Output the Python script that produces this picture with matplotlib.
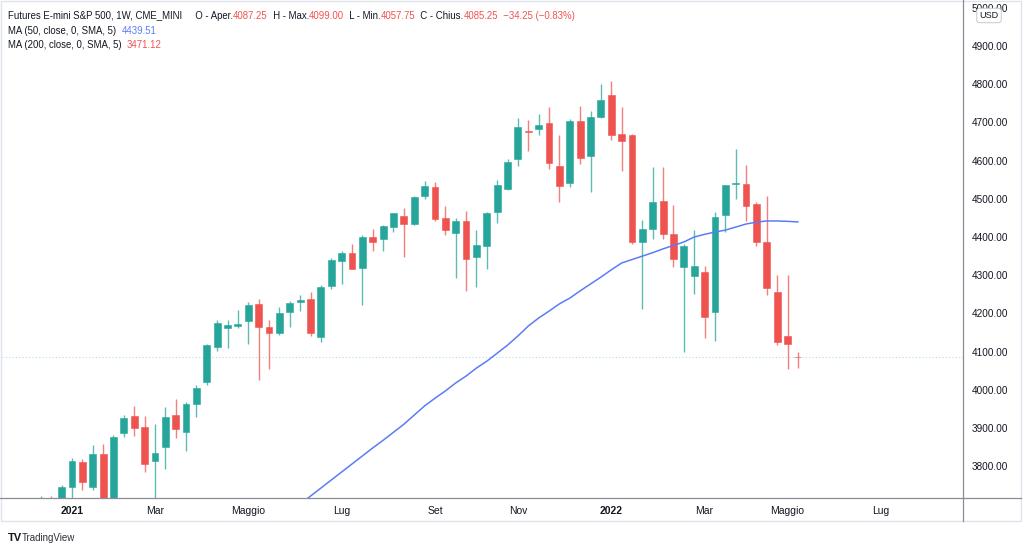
import matplotlib
matplotlib.use("Agg")
import matplotlib.pyplot as plt
from matplotlib.patches import Rectangle
from matplotlib.lines import Line2D
import numpy as np
import pandas as pd

plt.rcParams['font.family'] = ['Liberation Sans', 'DejaVu Sans']

# weekly candles, first week = 2020-12-14 (CME E-mini S&P 500, 1W)
first_week = "2020-12-14"
opens = [3695, 3717.5, 3700, 3745, 3812, 3745, 3833, 3700, 3886, 3932,
         3902, 3814, 3851, 3935, 3889, 3963, 4020, 4113, 4162, 4167,
         4181, 4225, 4165, 4148, 4204, 4230, 4237, 4139, 4272, 4338,
         4359, 4318, 4399, 4394, 4427, 4455, 4434, 4507, 4532, 4450,
         4410, 4443, 4347, 4377, 4465, 4526, 4605, 4677, 4683, 4699,
         4587, 4541, 4703, 4611, 4714, 4771, 4670, 4666, 4386, 4420,
         4495, 4408, 4322, 4298, 4308, 4203, 4457, 4538, 4538, 4487,
         4388, 4257, 4141, 4087.25]
highs = [3722, 3721, 3750, 3821, 3818, 3856, 3858, 3883, 3933, 3957,
         3931, 3910, 3954, 3975, 3968, 4012, 4120, 4183, 4184, 4209,
         4231, 4237, 4183, 4216, 4232, 4247, 4256, 4274, 4345, 4364,
         4382, 4406, 4421, 4431, 4464, 4475, 4507, 4547, 4545, 4481,
         4451, 4469, 4418, 4466, 4549, 4603, 4711, 4706, 4722, 4740,
         4668, 4710, 4743, 4731, 4800, 4807, 4740, 4670, 4444, 4584,
         4584, 4484, 4383, 4418, 4324, 4466, 4537, 4630, 4588, 4492,
         4507, 4300, 4300, 4099.00]
lows = [3680, 3690, 3690, 3660, 3739, 3739, 3694, 3692, 3877, 3879,
        3784, 3718, 3794, 3873, 3840, 3928, 4012, 4101, 4109, 4163,
        4120, 4027, 4055, 4143, 4164, 4206, 4141, 4126, 4264, 4277,
        4315, 4222, 4364, 4364, 4413, 4347, 4432, 4500, 4443, 4405,
        4293, 4259, 4268, 4315, 4437, 4523, 4586, 4625, 4666, 4577,
        4492, 4532, 4590, 4519, 4712, 4654, 4573, 4382, 4212, 4395,
        4394, 4321, 4100, 4250, 4137, 4128, 4414, 4500, 4443, 4376,
        4248, 4117, 4054, 4057.75]
closes = [3712, 3700, 3745, 3814, 3759, 3831, 3700, 3877, 3927, 3900,
          3806, 3836, 3929, 3897, 3963, 4006, 4118, 4174, 4169, 4173,
          4223, 4165, 4148, 4200, 4226, 4234, 4150, 4270, 4340, 4357,
          4316, 4401, 4386, 4429, 4462, 4434, 4505, 4533, 4447, 4418,
          4443, 4342, 4379, 4462, 4536, 4596, 4689, 4676, 4692, 4594,
          4534, 4703, 4607, 4715, 4758, 4666, 4652, 4387, 4421, 4491,
          4407, 4342, 4377, 4324, 4190, 4452, 4535, 4541, 4482, 4386,
          4266, 4124, 4119.5, 4085.25]
# MA (50, close) as drawn; None where it is off the chart
ma50 = [None] * 23 + [
    3655, 3678, 3700, 3722, 3743, 3764, 3785, 3806, 3827, 3848,
    3868, 3889, 3910, 3934, 3958, 3978, 3997, 4018, 4036, 4057,
    4075, 4096, 4117, 4141, 4167, 4188, 4206, 4225, 4240, 4259,
    4277, 4295, 4314, 4332, 4341, 4350, 4359, 4369, 4378, 4387,
    4400, 4407, 4413, 4418, 4426, 4434, 4439, 4442, 4442, 4441,
    4439.51]
ma200_last = 3471.12
price_ticks = [3800, 3900, 4000, 4100, 4200, 4300, 4400, 4500, 4600, 4700, 4800, 4900, 5000]
month_names = {1: None, 3: "Mar", 5: "Maggio", 7: "Lug", 9: "Set", 11: "Nov"}

UP = "#26a69a"
DOWN = "#ef5350"
TXT = "#131722"
MA_COL = "#5b7cf6"

W, H = 1024, 550
fig = plt.figure(figsize=(W / 100, H / 100), dpi=100)


def px(x0, y0, x1, y1):
    # pixel box (top-left origin) -> figure fraction rect
    return [x0 / W, 1 - y1 / H, (x1 - x0) / W, (y1 - y0) / H]


ax = fig.add_axes(px(2, 2, 963, 498))

o = np.array(opens, float)
h = np.array(highs, float)
l = np.array(lows, float)
c = np.array(closes, float)
idx = np.arange(len(o))
colors = np.where(c >= o, UP, DOWN)

ax.vlines(idx, l, h, colors=colors, lw=1.0, alpha=0.75, zorder=2)
body = np.maximum(np.abs(c - o), 1.2)
ax.bar(idx, body, bottom=np.minimum(o, c), width=0.66, color=colors,
       edgecolor=colors, linewidth=0.4, zorder=3)

ma = np.array([np.nan if v is None else v for v in ma50], float)
ax.plot(idx, ma, color=MA_COL, lw=1.1, zorder=4)

ax.axhline(c[-1], color=UP, alpha=0.35, lw=0.8, ls=(0, (1, 2)), zorder=1)

# axes ranges: a week is ~10.37 px, first Jan-2021 week at x=72
x_of_first = 72 - 10.37 * 3
ax.set_xlim((2 - x_of_first) / 10.37, (963 - x_of_first) / 10.37)
ax.set_ylim(3717, 5015)

# month ticks (first weekly bar of each month)
all_weeks = pd.date_range(first_week, periods=90, freq="W-MON")
tick_pos, tick_lab, tick_bold = [], [], []
seen = set()
for i, d in enumerate(all_weeks):
    key = (d.year, d.month)
    if d.month in month_names and key not in seen:
        seen.add(key)
        if d.month == 1:
            tick_lab.append(str(d.year))
            tick_bold.append(True)
        else:
            tick_lab.append(month_names[d.month])
            tick_bold.append(False)
        tick_pos.append(i)
ax.set_xticks(tick_pos)
ax.set_xticklabels(tick_lab)
for t, b in zip(ax.get_xticklabels(), tick_bold):
    t.set_fontweight("bold" if b else "normal")
ax.tick_params(axis="x", length=0, pad=5.5, labelsize=7.5, labelcolor=TXT)

ax.yaxis.tick_right()
ax.set_yticks(price_ticks)
ax.set_yticklabels([f"{v:.2f}" for v in price_ticks])
ax.tick_params(axis="y", length=0, pad=6, labelsize=7.2, labelcolor=TXT)

for s in ax.spines.values():
    s.set_visible(False)

# frame / axis lines drawn in figure pixels
fig.add_artist(Rectangle((1 / W, 1 - 521 / H), 1020 / W, 520 / H, transform=fig.transFigure,
                         fill=False, edgecolor="#e0e3eb", lw=1))
fig.add_artist(Line2D([0 / W, 1021 / W], [1 - 498 / H] * 2, transform=fig.transFigure,
                      color="#8a8d96", lw=0.9))
fig.add_artist(Line2D([963 / W] * 2, [1 - 0 / H, 1 - 521 / H], transform=fig.transFigure,
                      color="#8a8d96", lw=0.9))

# USD badge (sits over the 5000.00 label, as on the original)
fig.text(989 / W, 1 - 15.5 / H, "USD", ha="center", va="center", fontsize=6.5, color=TXT,
         bbox=dict(boxstyle="round,pad=0.3,rounding_size=0.3", fc="white", ec="#c7c9cf", lw=0.7),
         zorder=10)


def text_row(y, parts, size=6.9):
    prev = fig.text(8 / W, 1 - y / H, parts[0][0], fontsize=size, color=parts[0][1],
                    ha="left", va="bottom")
    for s, col in parts[1:]:
        prev = ax.annotate(s, xy=(1, 0), xycoords=prev, fontsize=size, color=col,
                           ha="left", va="bottom", annotation_clip=False)


chg = c[-1] - c[-2]
pct = chg / c[-2] * 100
text_row(21, [("Futures E-mini S&P 500, 1W, CME_MINI     O - Aper.", TXT), (f"{o[-1]:.2f}", DOWN),
              ("  H - Max.", TXT), (f"{h[-1]:.2f}", DOWN),
              ("  L - Min.", TXT), (f"{l[-1]:.2f}", DOWN),
              ("  C - Chius.", TXT), (f"{c[-1]:.2f}", DOWN),
              (f"  {chg:.2f} ({pct:.2f}%)".replace("-", "\u2212"), DOWN)])
text_row(36, [("MA (50, close, 0, SMA, 5)  ", TXT), (f"{ma[-1]:.2f}", MA_COL)])
text_row(50, [("MA (200, close, 0, SMA, 5)  ", TXT), (f"{ma200_last:.2f}", DOWN)])

# footer
fig.text(8 / W, 1 - 538 / H, "TV", fontsize=8, fontweight="bold", color=TXT, va="center")
fig.text(22 / W, 1 - 538 / H, "TradingView", fontsize=7, color="#2a2e39", va="center")

fig.savefig("out.png", dpi=100, facecolor="white")
